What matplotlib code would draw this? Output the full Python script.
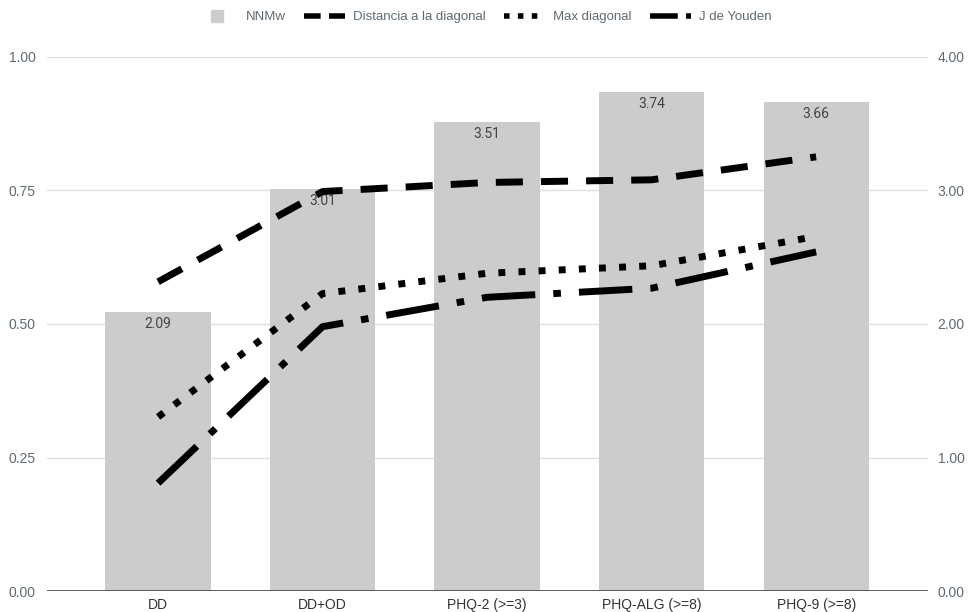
import matplotlib.pyplot as plt
from matplotlib.lines import Line2D

plt.rcParams['font.family'] = ['Liberation Sans', 'DejaVu Sans']

categories = ['DD', 'DD+OD', 'PHQ-2 (>=3)', 'PHQ-ALG (>=8)', 'PHQ-9 (>=8)']
nnmw = [2.09, 3.01, 3.51, 3.74, 3.66]
distancia = [0.579, 0.748, 0.765, 0.770, 0.813]
max_diagonal = [0.326, 0.557, 0.595, 0.609, 0.664]
youden = [0.202, 0.495, 0.550, 0.567, 0.635]

bar_color = '#cccccc'
text_color = '#5f6b73'

fig = plt.figure(figsize=(9.68, 6.12), dpi=100)
ax = fig.add_axes([0.0486, 0.0343, 0.9101, 0.8726])
ax2 = ax.twinx()

# bars go on the right-hand scale, lines on the left one; lines on top
ax.set_zorder(ax2.get_zorder() + 1)
ax.patch.set_visible(False)

x = range(len(categories))
ax2.bar(x, nnmw, width=0.64, color=bar_color, zorder=2)
for xi, v in zip(x, nnmw):
    ax2.annotate(f'{v:.2f}', (xi, v), xytext=(0, -3.5), textcoords='offset points',
                 ha='center', va='top', fontsize=10, color='#444444',
                 family=['Roboto', 'DejaVu Sans'])

lw = 5
ax.plot(x, distancia, color='black', lw=lw, dashes=(3.9, 2.6),
        dash_capstyle='butt', solid_joinstyle='miter')
ax.plot(x, max_diagonal, color='black', lw=lw, dashes=(1.0, 1.9),
        dash_capstyle='butt')
ax.plot(x, youden, color='black', lw=lw, dashes=(7.7, 2.6, 1.1, 2.6),
        dash_capstyle='butt')

ax.set_xlim(-0.675, 4.68)
ax.set_ylim(0, 1)
ax2.set_ylim(0, 4)
ax.set_yticks([0, 0.25, 0.5, 0.75, 1.0])
ax2.set_yticks([0, 1, 2, 3, 4])
ax.set_yticklabels([f'{t:.2f}' for t in [0, 0.25, 0.5, 0.75, 1.0]])
ax2.set_yticklabels([f'{t:.2f}' for t in [0, 1, 2, 3, 4]])
ax.set_xticks(list(x))
ax.set_xticklabels(categories)

ax2.set_axisbelow(True)
ax2.grid(axis='y', color='#e0e0e0', lw=1, zorder=0)
ax2.axhline(0, color='#444444', lw=1.2, zorder=3)

for a in (ax, ax2):
    for s in a.spines.values():
        s.set_visible(False)
    a.tick_params(length=0, labelsize=10, colors=text_color)
ax.tick_params(axis='y', pad=8)
ax2.tick_params(axis='y', pad=7)
ax.tick_params(axis='x', pad=5, colors='#333333')

# legend swatches: patterns sized so that each fits the handle length
handles = [
    Line2D([], [], marker='s', ls='none', color=bar_color, markersize=9),
    Line2D([], [], color='black', lw=4, dashes=(3.0, 1.5), dash_capstyle='butt'),
    Line2D([], [], color='black', lw=4, dashes=(1.0, 1.5), dash_capstyle='butt'),
    Line2D([], [], color='black', lw=4, dashes=(5.0, 1.5, 1.0, 1.5), dash_capstyle='butt'),
]
labels = ['NNMw', 'Distancia a la diagonal', 'Max diagonal', 'J de Youden']
leg = fig.legend(handles, labels, loc='center', bbox_to_anchor=(0.5, 0.972), ncol=4,
                 frameon=False, fontsize=9.5, handlelength=3.1, columnspacing=1.4,
                 handletextpad=0.6)
for t in leg.get_texts():
    t.set_color(text_color)

fig.savefig('out.png', dpi=100)
